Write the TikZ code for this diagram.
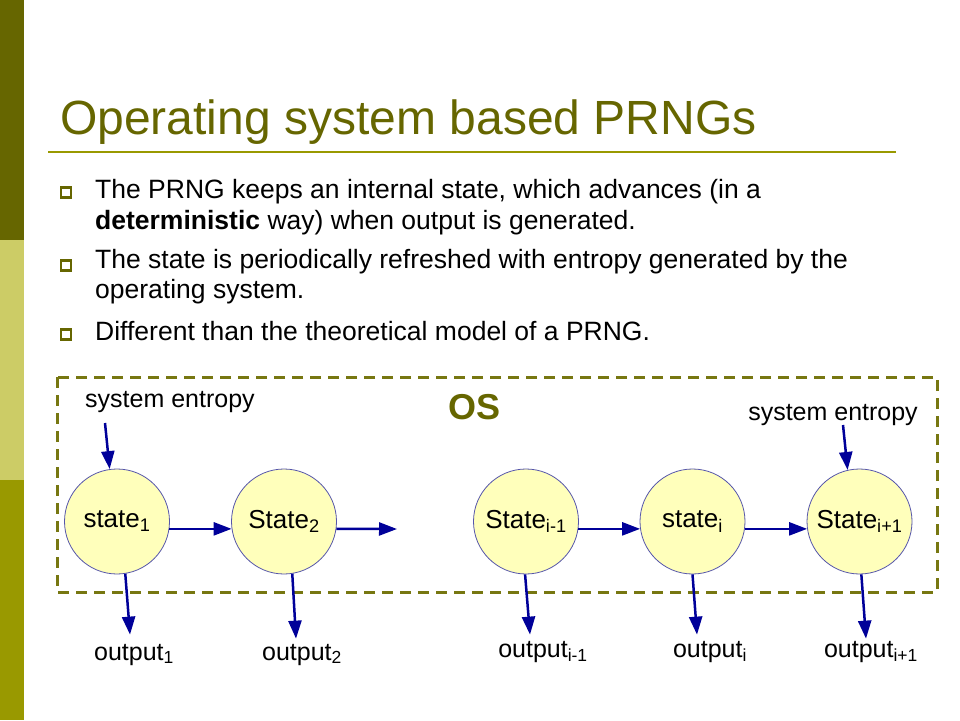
\documentclass[tikz,border=0pt]{standalone}
\usepackage{fontspec}
\setmainfont{Liberation Sans}
\usetikzlibrary{arrows.meta}
\definecolor{olivedark}{RGB}{102,102,0}
\definecolor{olivelight}{RGB}{204,204,102}
\definecolor{olivemid}{RGB}{153,153,0}
\definecolor{boxline}{RGB}{119,119,17}
\definecolor{arrowblue}{RGB}{0,0,153}
\definecolor{statefill}{RGB}{255,255,187}
\definecolor{stateline}{RGB}{85,85,170}
\tikzset{
  state/.style={circle, draw=stateline, fill=statefill, line width=0.8pt,
    minimum size=105pt, inner sep=0pt, font=\fontsize{26}{30}\selectfont},
  flow/.style={draw=arrowblue, line width=2.5pt, -{Triangle[length=18pt,width=13pt]}},
  lbl/.style={font=\fontsize{25}{30}\selectfont, inner sep=0pt, anchor=base},
  bodytext/.style={font=\fontsize{26.5}{30}\selectfont, inner sep=0pt, anchor=base west}
}
\begin{document}
\begin{tikzpicture}[x=1pt, y=-1pt]
    \fill[white] (0,0) rectangle (960,720);
    \useasboundingbox (0,0) rectangle (960,720);
    % side bar
    \fill[olivedark] (0,0) rectangle (24,240);
    \fill[olivelight] (0,240) rectangle (24,480);
    \fill[olivemid] (0,480) rectangle (24,720);
    % title
    \node[anchor=base west, inner sep=0pt, text=olivedark,
      font=\fontsize{48}{58}\selectfont] (title) at (60,134) {Operating system based PRNGs};
    \draw[olivemid, line width=2pt] (48,152) -- (896,152);
    % bullets
    \foreach \y in {192.5,265.5,334.5}
      \draw[olivedark, line width=2.5pt] (61,\y-5) rectangle (71,\y+5);
    \node[bodytext] (b1a) at (95,198) {The PRNG keeps an internal state, which advances (in a};
    \node[bodytext] (b1b) at (95,229) {\textbf{deterministic} way) when output is generated.};
    \node[bodytext] (b2a) at (95,268) {The state is periodically refreshed with entropy generated by the};
    \node[bodytext] (b2b) at (95,298) {operating system.};
    \node[bodytext] (b3a) at (95,340) {Different than the theoretical model of a PRNG.};
    % OS box
    \draw[boxline, line width=3pt, dash pattern=on 11pt off 7pt] (57,377) rectangle (937,592);
    \node[lbl, text=olivedark, font=\bfseries\fontsize{36}{40}\selectfont] (os) at (474.5,419) {OS};
    % states
    \node[state] (s1) at (117,521.5) {state\textsubscript{1}};
    \node[state] (s2) at (284,521.5) {State\textsubscript{2}};
    \node[state] (sm) at (526,521.5) {State\textsubscript{i-1}};
    \node[state] (si) at (692.5,521.5) {state\textsubscript{i}};
    \node[state] (sp) at (859.5,521.5) {State\textsubscript{i+1}};
    % labels
    \node[lbl] (ent1) at (170,407) {system entropy};
    \node[lbl] (ent2) at (833,420) {system entropy};
    \node[lbl] (o1) at (134,660) {output\textsubscript{1}};
    \node[lbl] (o2) at (302,660) {output\textsubscript{2}};
    \node[lbl] (om) at (543,657) {output\textsubscript{i-1}};
    \node[lbl] (oi) at (710,657) {output\textsubscript{i}};
    \node[lbl] (op) at (871,657) {output\textsubscript{i+1}};
    \coordinate (e1) at (105,423);
    \coordinate (e2) at (843,425);
    \coordinate (next) at (397,529);
    % arrows
    \draw[flow] (e1) -- (s1.98);
    \draw[flow] (e2) -- (sp.103);
    \draw[flow] (s1.-8) -- (s2.188);
    \draw[flow] (s2.-8) -- (next);
    \draw[flow] (sm.-8) -- (si.188);
    \draw[flow] (si.-8) -- (sp.188);
    \draw[flow] (s1.-81) -- ([xshift=-4pt,yshift=9pt]o1.north);
    \draw[flow] (s2.-81) -- ([xshift=-6pt,yshift=5pt]o2.north);
    \draw[flow] (sm.-91) -- ([xshift=-13pt,yshift=6pt]om.north);
    \draw[flow] (si.-90) -- ([xshift=-13pt,yshift=6pt]oi.north);
    \draw[flow] (sp.-88) -- ([xshift=-5pt,yshift=2pt]op.north);
\end{tikzpicture}
\end{document}
